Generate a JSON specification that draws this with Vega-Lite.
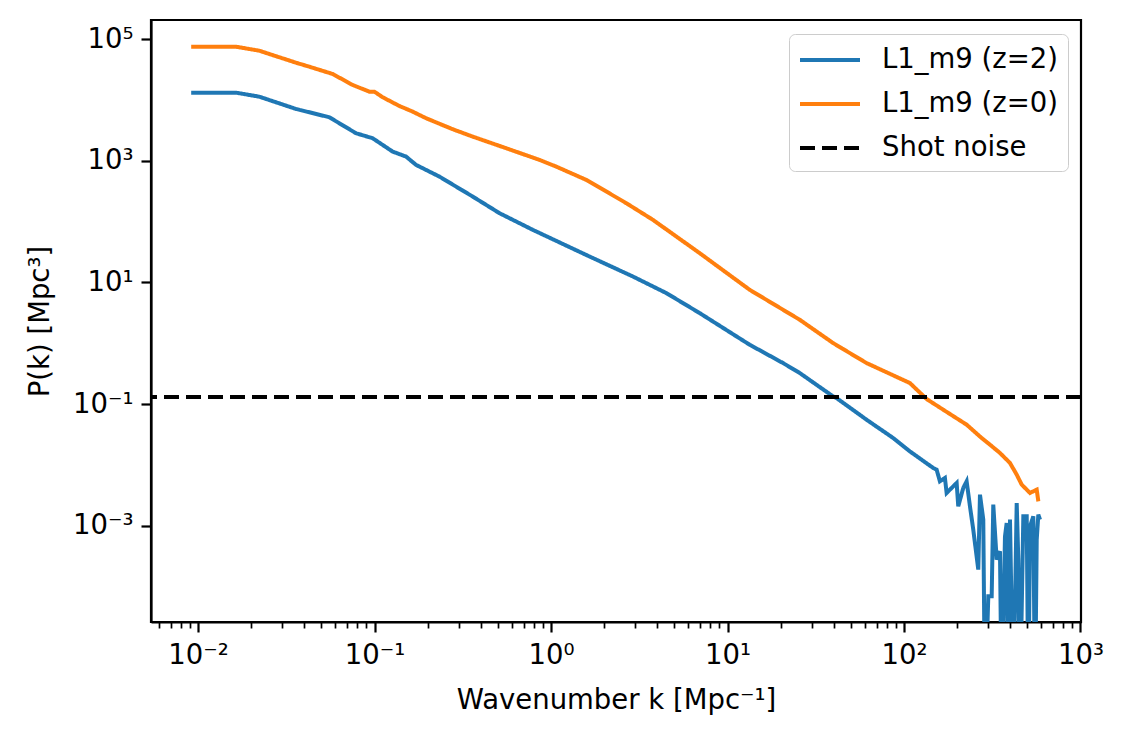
{
  "$schema": "https://vega.github.io/schema/vega-lite/v6.json",
  "width": 930,
  "height": 602,
  "autosize": {"type": "none"},
  "padding": {"left": 151, "top": 20, "right": 42, "bottom": 118},
  "background": "white",
  "config": {
    "font": "DejaVu Sans",
    "view": {"stroke": "black", "strokeWidth": 2.2},
    "axis": {
      "grid": false,
      "domainColor": "black",
      "domainWidth": 2.2,
      "tickColor": "black",
      "tickWidth": 2.2,
      "labelFont": "DejaVu Sans",
      "labelFontSize": 27.5,
      "labelColor": "black",
      "titleFont": "DejaVu Sans",
      "titleFontSize": 27.5,
      "titleFontWeight": "normal",
      "titleColor": "black"
    },
    "legend": {
      "labelFont": "DejaVu Sans",
      "labelFontSize": 27.5,
      "labelColor": "black",
      "labelLimit": 500
    }
  },
  "datasets": {
    "spectra": [
      {"series": "L1_m9 (z=2)", "k": 0.009139, "P": 13208},
      {"series": "L1_m9 (z=2)", "k": 0.01639, "P": 13208},
      {"series": "L1_m9 (z=2)", "k": 0.02221, "P": 11350},
      {"series": "L1_m9 (z=2)", "k": 0.03587, "P": 7127},
      {"series": "L1_m9 (z=2)", "k": 0.0554, "P": 5206},
      {"series": "L1_m9 (z=2)", "k": 0.07852, "P": 2841},
      {"series": "L1_m9 (z=2)", "k": 0.09754, "P": 2352},
      {"series": "L1_m9 (z=2)", "k": 0.1267, "P": 1416},
      {"series": "L1_m9 (z=2)", "k": 0.1509, "P": 1172},
      {"series": "L1_m9 (z=2)", "k": 0.1719, "P": 856.3},
      {"series": "L1_m9 (z=2)", "k": 0.2331, "P": 549.9},
      {"series": "L1_m9 (z=2)", "k": 0.3601, "P": 258.0},
      {"series": "L1_m9 (z=2)", "k": 0.5105, "P": 137.6},
      {"series": "L1_m9 (z=2)", "k": 0.7884, "P": 73.17},
      {"series": "L1_m9 (z=2)", "k": 1.654, "P": 26.65},
      {"series": "L1_m9 (z=2)", "k": 2.911, "P": 12.5},
      {"series": "L1_m9 (z=2)", "k": 4.502, "P": 6.672},
      {"series": "L1_m9 (z=2)", "k": 6.955, "P": 3.129},
      {"series": "L1_m9 (z=2)", "k": 13.36, "P": 0.943},
      {"series": "L1_m9 (z=2)", "k": 20.64, "P": 0.4719},
      {"series": "L1_m9 (z=2)", "k": 25.68, "P": 0.3231},
      {"series": "L1_m9 (z=2)", "k": 39.66, "P": 0.1333},
      {"series": "L1_m9 (z=2)", "k": 41.46, "P": 0.1255},
      {"series": "L1_m9 (z=2)", "k": 61.33, "P": 0.05521},
      {"series": "L1_m9 (z=2)", "k": 86.84, "P": 0.02762},
      {"series": "L1_m9 (z=2)", "k": 108.0, "P": 0.01663},
      {"series": "L1_m9 (z=2)", "k": 146.4, "P": 0.008876},
      {"series": "L1_m9 (z=2)", "k": 153.1, "P": 0.008323},
      {"series": "L1_m9 (z=2)", "k": 159.8, "P": 0.005346},
      {"series": "L1_m9 (z=2)", "k": 170.6, "P": 0.006079},
      {"series": "L1_m9 (z=2)", "k": 174.4, "P": 0.003447},
      {"series": "L1_m9 (z=2)", "k": 198.8, "P": 0.00503},
      {"series": "L1_m9 (z=2)", "k": 203.0, "P": 0.002076},
      {"series": "L1_m9 (z=2)", "k": 216.7, "P": 0.004165},
      {"series": "L1_m9 (z=2)", "k": 226.5, "P": 0.005346},
      {"series": "L1_m9 (z=2)", "k": 236.5, "P": 0.002076},
      {"series": "L1_m9 (z=2)", "k": 246.9, "P": 0.0008598},
      {"series": "L1_m9 (z=2)", "k": 263.6, "P": 0.0001891},
      {"series": "L1_m9 (z=2)", "k": 269.5, "P": 0.003232},
      {"series": "L1_m9 (z=2)", "k": 281.4, "P": 0.001255},
      {"series": "L1_m9 (z=2)", "k": 287.7, "P": 0.000001},
      {"series": "L1_m9 (z=2)", "k": 300.4, "P": 0.00006889},
      {"series": "L1_m9 (z=2)", "k": 314.0, "P": 0.00006889},
      {"series": "L1_m9 (z=2)", "k": 320.6, "P": 0.002214},
      {"series": "L1_m9 (z=2)", "k": 335.1, "P": 0.0002762},
      {"series": "L1_m9 (z=2)", "k": 349.9, "P": 0.0003782},
      {"series": "L1_m9 (z=2)", "k": 357.7, "P": 0.000001},
      {"series": "L1_m9 (z=2)", "k": 373.5, "P": 0.0006673},
      {"series": "L1_m9 (z=2)", "k": 381.9, "P": 0.001108},
      {"series": "L1_m9 (z=2)", "k": 389.9, "P": 0.000001},
      {"series": "L1_m9 (z=2)", "k": 398.7, "P": 0.001255},
      {"series": "L1_m9 (z=2)", "k": 416.2, "P": 0.000001},
      {"series": "L1_m9 (z=2)", "k": 435.2, "P": 0.00236},
      {"series": "L1_m9 (z=2)", "k": 444.4, "P": 0.0002762},
      {"series": "L1_m9 (z=2)", "k": 454.4, "P": 0.000001},
      {"series": "L1_m9 (z=2)", "k": 474.5, "P": 0.001422},
      {"series": "L1_m9 (z=2)", "k": 496.0, "P": 0.001422},
      {"series": "L1_m9 (z=2)", "k": 506.5, "P": 0.000001},
      {"series": "L1_m9 (z=2)", "k": 517.8, "P": 0.0009739},
      {"series": "L1_m9 (z=2)", "k": 540.6, "P": 0.001422},
      {"series": "L1_m9 (z=2)", "k": 552.7, "P": 0.000001},
      {"series": "L1_m9 (z=2)", "k": 565.1, "P": 0.0005886},
      {"series": "L1_m9 (z=2)", "k": 577.1, "P": 0.001516},
      {"series": "L1_m9 (z=2)", "k": 589.9, "P": 0.001255},
      {"series": "L1_m9 (z=0)", "k": 0.009139, "P": 75320},
      {"series": "L1_m9 (z=0)", "k": 0.01639, "P": 75320},
      {"series": "L1_m9 (z=0)", "k": 0.02221, "P": 64710},
      {"series": "L1_m9 (z=0)", "k": 0.03587, "P": 41090},
      {"series": "L1_m9 (z=0)", "k": 0.04268, "P": 35330},
      {"series": "L1_m9 (z=0)", "k": 0.05785, "P": 26810},
      {"series": "L1_m9 (z=0)", "k": 0.0751, "P": 17680},
      {"series": "L1_m9 (z=0)", "k": 0.09344, "P": 13720},
      {"series": "L1_m9 (z=0)", "k": 0.09974, "P": 13720},
      {"series": "L1_m9 (z=0)", "k": 0.1112, "P": 11100},
      {"series": "L1_m9 (z=0)", "k": 0.1382, "P": 7984},
      {"series": "L1_m9 (z=0)", "k": 0.1645, "P": 6435},
      {"series": "L1_m9 (z=0)", "k": 0.196, "P": 5013},
      {"series": "L1_m9 (z=0)", "k": 0.2773, "P": 3306},
      {"series": "L1_m9 (z=0)", "k": 0.3601, "P": 2498},
      {"series": "L1_m9 (z=0)", "k": 0.5569, "P": 1611},
      {"series": "L1_m9 (z=0)", "k": 0.8605, "P": 1035},
      {"series": "L1_m9 (z=0)", "k": 1.07, "P": 803.0},
      {"series": "L1_m9 (z=0)", "k": 1.584, "P": 485.5},
      {"series": "L1_m9 (z=0)", "k": 2.67, "P": 201.1},
      {"series": "L1_m9 (z=0)", "k": 3.779, "P": 106.9},
      {"series": "L1_m9 (z=0)", "k": 6.955, "P": 30.3},
      {"series": "L1_m9 (z=0)", "k": 13.36, "P": 7.556},
      {"series": "L1_m9 (z=0)", "k": 25.68, "P": 2.428},
      {"series": "L1_m9 (z=0)", "k": 39.66, "P": 1.006},
      {"series": "L1_m9 (z=0)", "k": 61.33, "P": 0.4719},
      {"series": "L1_m9 (z=0)", "k": 108.0, "P": 0.2214},
      {"series": "L1_m9 (z=0)", "k": 134.4, "P": 0.1208},
      {"series": "L1_m9 (z=0)", "k": 166.9, "P": 0.08059},
      {"series": "L1_m9 (z=0)", "k": 226.5, "P": 0.04569},
      {"series": "L1_m9 (z=0)", "k": 275.5, "P": 0.02762},
      {"series": "L1_m9 (z=0)", "k": 307.1, "P": 0.02144},
      {"series": "L1_m9 (z=0)", "k": 349.9, "P": 0.01566},
      {"series": "L1_m9 (z=0)", "k": 398.7, "P": 0.01072},
      {"series": "L1_m9 (z=0)", "k": 435.2, "P": 0.006887},
      {"series": "L1_m9 (z=0)", "k": 464.7, "P": 0.004719},
      {"series": "L1_m9 (z=0)", "k": 517.8, "P": 0.003447},
      {"series": "L1_m9 (z=0)", "k": 565.1, "P": 0.003904},
      {"series": "L1_m9 (z=0)", "k": 577.1, "P": 0.002507}
    ],
    "noise": [
      {"series": "Shot noise", "P": 0.13}
    ]
  },
  "resolve": {"axis": {"x": "independent"}},
  "layer": [
    {
      "data": {"name": "spectra"},
      "transform": [{"filter": "datum.series == 'L1_m9 (z=2)'"}],
      "mark": {"type": "line", "clip": true, "strokeWidth": 4, "interpolate": "linear"},
      "encoding": {
        "x": {
          "field": "k", "type": "quantitative",
          "scale": {"type": "log", "domain": [0.00541, 1007], "nice": false},
          "axis": {
            "orient": "bottom",
            "title": "Wavenumber k [Mpc⁻¹]",
            "titlePadding": 18,
            "values": [0.01, 0.1, 1, 10, 100, 1000],
            "labelExpr": "datum.value == 0.01 ? '10⁻²' : datum.value == 0.1 ? '10⁻¹' : datum.value == 1 ? '10⁰' : datum.value == 10 ? '10¹' : datum.value == 100 ? '10²' : '10³'",
            "tickSize": 10,
            "labelPadding": 9,
            "labelFlush": false,
            "labelOverlap": false
          }
        },
        "y": {
          "field": "P", "type": "quantitative",
          "scale": {"type": "log", "domain": [0.000026, 207000], "nice": false},
          "axis": {
            "title": "P(k) [Mpc³]",
            "titlePadding": 18,
            "values": [0.001, 0.1, 10, 1000, 100000],
            "labelExpr": "datum.value == 0.001 ? '10⁻³' : datum.value == 0.1 ? '10⁻¹' : datum.value == 10 ? '10¹' : datum.value == 1000 ? '10³' : '10⁵'",
            "tickSize": 10,
            "labelPadding": 8,
            "labelFlush": false,
            "labelOverlap": false
          }
        },
        "color": {
          "field": "series", "type": "nominal",
          "scale": {"domain": ["L1_m9 (z=2)", "L1_m9 (z=0)", "Shot noise"], "range": ["#1f77b4", "#ff7f0e", "#000000"]},
          "legend": {
            "title": null,
            "orient": "none",
            "legendX": 638,
            "legendY": 14,
            "symbolType": "M-1,0L3,0",
            "symbolSize": 900,
            "symbolStrokeWidth": 4,
            "labelOffset": 50,
            "rowPadding": 13,
            "padding": 9,
            "fillColor": "white",
            "strokeColor": "#cccccc",
            "cornerRadius": 6
          }
        },
        "strokeDash": {
          "field": "series", "type": "nominal",
          "scale": {"domain": ["L1_m9 (z=2)", "L1_m9 (z=0)", "Shot noise"], "range": [[1, 0], [1, 0], [15, 7]]},
          "legend": null
        }
      }
    },
    {
      "data": {"name": "spectra"},
      "transform": [{"filter": "datum.series == 'L1_m9 (z=0)'"}],
      "mark": {"type": "line", "clip": true, "strokeWidth": 4},
      "encoding": {
        "x": {
          "field": "k", "type": "quantitative",
          "scale": {"type": "log", "domain": [0.00541, 1007], "nice": false},
          "axis": {
            "orient": "bottom",
            "title": null,
            "values": [0.006, 0.007, 0.008, 0.009, 0.02, 0.03, 0.04, 0.05, 0.06, 0.07, 0.08, 0.09, 0.2, 0.3, 0.4, 0.5, 0.6, 0.7, 0.8, 0.9, 2, 3, 4, 5, 6, 7, 8, 9, 20, 30, 40, 50, 60, 70, 80, 90, 200, 300, 400, 500, 600, 700, 800, 900],
            "labels": false,
            "domain": false,
            "tickSize": 6,
            "tickWidth": 1.7
          }
        },
        "y": {"field": "P", "type": "quantitative"},
        "color": {"field": "series", "type": "nominal"},
        "strokeDash": {"field": "series", "type": "nominal", "legend": null}
      }
    },
    {
      "data": {"name": "noise"},
      "mark": {"type": "rule", "strokeWidth": 4},
      "encoding": {
        "y": {"field": "P", "type": "quantitative"},
        "color": {"field": "series", "type": "nominal"},
        "strokeDash": {"field": "series", "type": "nominal", "legend": null}
      }
    }
  ]
}
